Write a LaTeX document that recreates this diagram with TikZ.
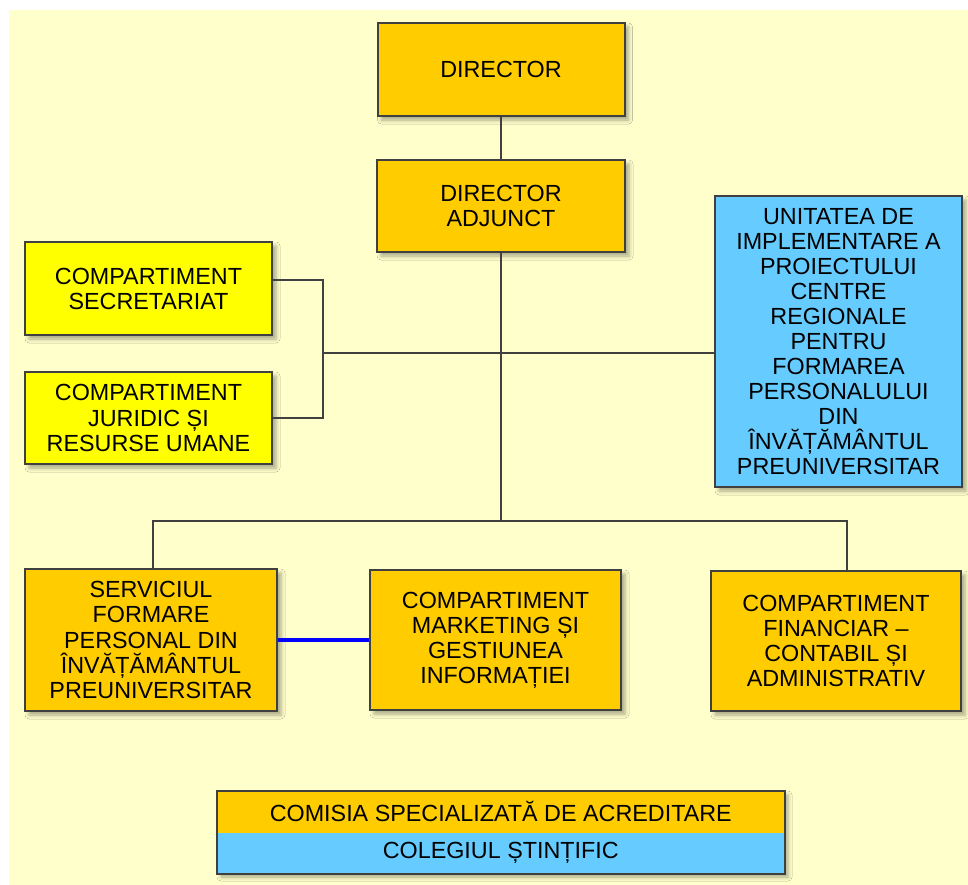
\documentclass[tikz,border=0pt]{standalone}
\usepackage{fontspec}
\setmainfont{Liberation Sans}
\usetikzlibrary{positioning,shadows.blur}
\definecolor{bgcream}{HTML}{FFFFCC}
\definecolor{orangebox}{HTML}{FFCC00}
\definecolor{yellowbox}{HTML}{FFFF00}
\definecolor{bluebox}{HTML}{66CCFF}
\definecolor{linegray}{HTML}{404040}
\tikzset{
  unitbox/.style={
      draw=linegray, line width=1.5pt, fill=#1, align=center, inner sep=0pt,
      font=\fontsize{17.5}{18.8}\selectfont,
      blur shadow={shadow xshift=3pt, shadow yshift=-3pt,
          shadow blur radius=3pt, shadow opacity=35}
    },
  boxsize/.style 2 args={minimum width=#1*0.75pt, minimum height=#2*0.75pt},
  link/.style={draw=linegray, line width=1.5pt},
  bluelink/.style={draw=blue, line width=3pt}
}

\begin{document}
\begin{tikzpicture}[x=0.75pt, y=-0.75pt]
		\useasboundingbox (0,0) rectangle (968,885);
		\fill[bgcream] (9,10) rectangle (968,885);

		% management
		\node[unitbox=orangebox, boxsize={247}{93}] (dir) at (501,69.5) {DIRECTOR};
		\node[unitbox=orangebox, boxsize={248}{92}] (adj) at (501,206) {DIRECTOR\\ADJUNCT};

		% left and right of the deputy director
		\node[unitbox=yellowbox, boxsize={247}{93}] (secr) at (148.5,288.5) {COMPARTIMENT\\SECRETARIAT};
		\node[unitbox=yellowbox, boxsize={247}{92}] (jur) at (148.5,418) {COMPARTIMENT\\JURIDIC ȘI\\RESURSE UMANE};
		\node[unitbox=bluebox, boxsize={247}{291}] (unit) at (838.5,341.5) {UNITATEA DE\\IMPLEMENTARE A\\PROIECTULUI\\CENTRE\\REGIONALE\\PENTRU\\FORMAREA\\PERSONALULUI\\DIN\\ÎNVĂȚĂMÂNTUL\\PREUNIVERSITAR};

		% departments
		\node[unitbox=orangebox, boxsize={252}{142}] (serv) at (151,640) {SERVICIUL\\FORMARE\\PERSONAL DIN\\ÎNVĂȚĂMÂNTUL\\PREUNIVERSITAR};
		\node[unitbox=orangebox, boxsize={251}{140}] (mark) at (495.5,640) {COMPARTIMENT\\MARKETING ȘI\\GESTIUNEA\\INFORMAȚIEI};
		\node[unitbox=orangebox, boxsize={250}{140}] (fin) at (836,641) {COMPARTIMENT\\FINANCIAR --\\CONTABIL ȘI\\ADMINISTRATIV};

		% committees
		\coordinate (accNW) at (217,791);
		\coordinate (accSE) at (784,873);
		\fill[orangebox, blur shadow={shadow xshift=3pt, shadow yshift=-3pt,
						shadow blur radius=3pt, shadow opacity=35}] (accNW) rectangle (accSE);
		\node[fill=orangebox, anchor=north west, inner sep=0pt, boxsize={567}{41},
			font=\fontsize{17.5}{18.8}\selectfont] (comisia) at (accNW) {COMISIA SPECIALIZATĂ DE ACREDITARE};
		\node[fill=bluebox, below=0pt of comisia, inner sep=0pt, boxsize={567}{41},
			font=\fontsize{17.5}{18.8}\selectfont] (colegiul) {COLEGIUL ȘTINȚIFIC};
		\draw[link] (comisia.north west) rectangle (colegiul.south east);

		% connectors
		\coordinate (brk) at (323,353);
		\coordinate (bus) at (501,521);
		\coordinate (busL) at (153,521);
		\coordinate (busR) at (847,521);
		\draw[link] (dir) -- (adj);
		\draw[link] (adj) -- (bus);
		\draw[link] ([yshift=6.4pt]secr.east) -| (brk) |- (jur.east);
		\draw[link] (brk) -- (unit.west |- brk);
		\draw[link] (busL |- serv.north) -- (busL) -- (busR) -- (busR |- fin.north);
		\draw[bluelink] (serv) -- (mark);
	\end{tikzpicture}
\end{document}
